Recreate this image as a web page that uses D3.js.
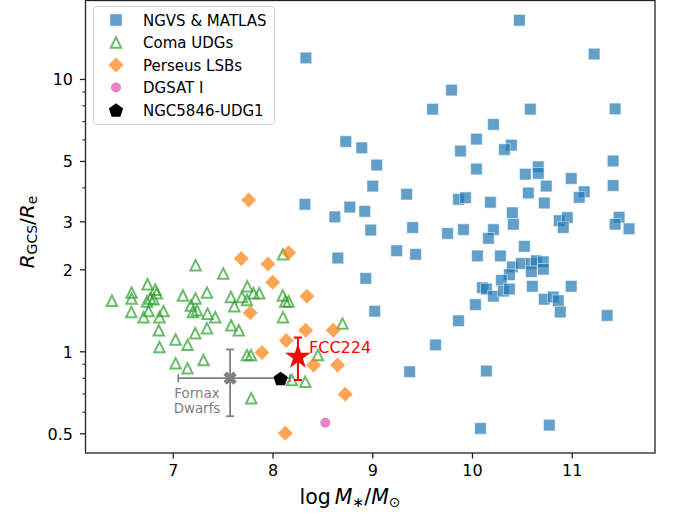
<!DOCTYPE html>
<html><head><meta charset="utf-8">
<script src="https://cdn.jsdelivr.net/npm/d3@7"></script>
<style>body{margin:0;background:#fff}svg{display:block;font-family:"DejaVu Sans",sans-serif}</style>
</head><body><svg id="c" width="678" height="520"></svg>
<script>
// ---- data ----
const ngvsX = [10.47,11.22,9.79,9.60,10.58,11.43,10.21,10.04,9.88,10.39,10.32,9.04,10.04,11.41,10.66,10.53,10.66,10.99,10.74,9.34,10.56,9.86,9.93,10.18,10.72,11.12,11.07,11.41,10.40,10.41,10.87,10.95,10.91,11.47,11.43,11.57,9.40,9.91,10.21,9.75,10.16,9.24,9.43,10.05,10.28,10.52,10.40,10.37,10.49,10.59,10.64,10.71,10.59,10.71,10.29,10.10,10.14,10.21,10.31,10.37,10.60,10.99,10.72,10.81,10.86,10.88,11.35,10.03,9.86,9.63,9.37,10.14,10.08,10.77,9.02,8.33,8.73,8.89,9.00,8.32,8.77,8.92,8.62,8.98,8.65,8.93];
const ngvsY = [16.5,12.4,9.14,7.78,7.78,7.80,6.84,6.04,5.46,5.74,5.53,4.85,4.69,5.02,4.78,4.49,4.52,4.33,4.06,3.79,3.83,3.63,3.68,3.54,3.52,3.87,3.69,4.08,3.24,2.94,3.03,3.11,2.86,3.12,2.94,2.83,2.86,2.81,2.81,2.72,2.61,2.35,2.28,2.25,2.25,2.44,2.05,1.92,2.11,2.11,2.16,2.14,1.97,2.01,1.83,1.72,1.70,1.60,1.67,1.70,1.74,1.74,1.56,1.59,1.54,1.40,1.36,1.49,1.30,1.06,0.845,0.85,0.523,0.538,1.41,12.0,5.92,5.61,4.06,3.48,3.40,3.28,3.13,2.80,2.21,1.86];
const comaX = [6.385,6.582,6.582,6.579,6.702,6.742,6.752,6.769,6.736,6.802,6.819,6.835,6.862,6.902,6.855,6.862,7.023,7.023,7.143,7.143,7.097,7.223,7.177,7.197,7.237,7.220,7.224,7.338,7.338,7.344,7.421,7.303,7.501,7.578,7.612,7.581,7.657,7.689,7.739,7.742,7.805,7.862,8.100,8.098,8.123,8.156,8.100,7.739,7.779,7.782,8.190,8.324,8.450,8.697];
const comaY = [1.54,1.65,1.57,1.40,1.34,1.77,1.41,1.57,1.53,1.56,1.69,1.64,1.34,1.41,1.20,1.04,1.11,0.907,1.06,0.869,1.61,1.57,1.48,1.40,1.42,1.17,2.08,1.65,1.22,1.38,1.34,0.932,1.94,1.59,1.47,1.25,1.20,1.59,1.55,1.74,1.64,1.64,2.28,1.61,1.53,1.53,1.34,0.972,0.972,0.675,0.787,0.776,0.972,1.27];
const perseusX = [7.757,7.682,7.949,8.156,7.997,8.340,7.772,8.328,8.133,8.604,7.889,8.407,8.647,8.724,8.123];
const perseusY = [3.61,2.20,2.10,2.31,1.80,1.60,1.39,1.20,1.10,1.20,0.995,0.894,0.894,0.698,0.502];
const dgsatX = [8.524], dgsatY = [0.549];
const ngc5846X = [8.076], ngc5846Y = [0.799];
const fornaxX = 7.57, fornaxY = 0.80, fornaxXerr = [0.52, 0.60], fornaxYerr = 0.22;
const fccX = 8.25, fccY = 0.958, fccYerr = 0.17;
const xTicks = [7,8,9,10,11];
const yTicks = [0.5,1,2,3,5,10];
const yMinor = [0.6,0.7,0.8,0.9,4,6,7,8,9];
const legendLabels = ["NGVS & MATLAS","Coma UDGs","Perseus LSBs","DGSAT I","NGC5846-UDG1"];

// ---- layout ----
const svg = d3.select("#c");
const L = 85.5, R = 655, T = 0.5, B = 453;
const x = d3.scaleLinear().domain([6.12, 11.83]).range([L, R]);
const y = d3.scaleLog().domain([0.425, 19.5]).range([B, T]);

const blue = "#1f77b4", green = "#2ca02c", orange = "#ff7f0e", pink = "#e377c2";

const sq = s => `M${-s},${-s}H${s}V${s}H${-s}Z`;
const tri = s => `M0,${-s}L${s},${s}L${-s},${s}Z`;
const dia = s => `M0,${-s}L${s},0L0,${s}L${-s},0Z`;
const pent = r => "M" + d3.range(5).map(i => { const a = -Math.PI/2 + i*2*Math.PI/5; return [r*Math.cos(a), r*Math.sin(a)].join(","); }).join("L") + "Z";
const star = (ro) => { const ri = ro*0.382; return "M" + d3.range(10).map(i => { const a = -Math.PI/2 + i*Math.PI/5; const r = i%2 ? ri : ro; return [r*Math.cos(a), r*Math.sin(a)].join(","); }).join("L") + "Z"; };
const xmark = (l, w) => { const p = [[-w,-l],[w,-l],[w,-w],[l,-w],[l,w],[w,w],[w,l],[-w,l],[-w,w],[-l,w],[-l,-w],[-w,-w]]; const c = Math.SQRT1_2; return "M" + p.map(([a,b]) => [(a-b)*c,(a+b)*c].join(",")).join("L") + "Z"; };

const plot = svg.append("g");

// NGVS squares
plot.selectAll(".sq").data(d3.zip(ngvsX, ngvsY)).join("path")
  .attr("d", sq(5.8)).attr("transform", d => `translate(${x(d[0])},${y(d[1])})`)
  .attr("fill", blue).attr("fill-opacity", 0.7).attr("stroke", "#fff").attr("stroke-opacity", 0.5).attr("stroke-width", 1);
// Coma triangles
plot.selectAll(".tr").data(d3.zip(comaX, comaY)).join("path")
  .attr("d", tri(5.2)).attr("transform", d => `translate(${x(d[0])},${y(d[1])})`)
  .attr("fill", "none").attr("stroke", green).attr("stroke-opacity", 0.7).attr("stroke-width", 2);
// Perseus diamonds
plot.selectAll(".di").data(d3.zip(perseusX, perseusY)).join("path")
  .attr("d", dia(7.5)).attr("transform", d => `translate(${x(d[0])},${y(d[1])})`)
  .attr("fill", orange).attr("fill-opacity", 0.7);
// DGSAT I
plot.selectAll(".ci").data(d3.zip(dgsatX, dgsatY)).join("circle")
  .attr("cx", d => x(d[0])).attr("cy", d => y(d[1])).attr("r", 5)
  .attr("fill", pink).attr("fill-opacity", 0.9);

// Fornax dwarfs
const fg = plot.append("g").attr("stroke", "#808080").attr("stroke-width", 1.8).attr("fill", "none");
const fx = x(fornaxX), fy = y(fornaxY);
const fxl = x(fornaxX - fornaxXerr[0]), fxr = x(fornaxX + fornaxXerr[1]);
const fyt = y(fornaxY + fornaxYerr), fyb = y(fornaxY - fornaxYerr);
fg.append("line").attr("x1", fxl).attr("x2", fxr).attr("y1", fy).attr("y2", fy);
fg.append("line").attr("x1", fx).attr("x2", fx).attr("y1", fyt).attr("y2", fyb);
fg.append("line").attr("x1", fxl).attr("x2", fxl).attr("y1", fy-4).attr("y2", fy+4);
fg.append("line").attr("x1", fxr).attr("x2", fxr).attr("y1", fy-4).attr("y2", fy+4);
fg.append("line").attr("x1", fx-4).attr("x2", fx+4).attr("y1", fyt).attr("y2", fyt);
fg.append("line").attr("x1", fx-4).attr("x2", fx+4).attr("y1", fyb).attr("y2", fyb);
plot.append("path").attr("d", xmark(7, 2.4)).attr("transform", `translate(${fx},${fy})`).attr("fill", "#808080");
const ft = plot.append("text").attr("fill", "#808080").attr("font-size", 13.4).attr("text-anchor", "middle");
ft.append("tspan").attr("x", 197).attr("y", 398).text("Fornax");
ft.append("tspan").attr("x", 197).attr("y", 413).text("Dwarfs");

// NGC5846-UDG1
plot.selectAll(".pe").data(d3.zip(ngc5846X, ngc5846Y)).join("path")
  .attr("d", pent(7.5)).attr("transform", d => `translate(${x(d[0])},${y(d[1])+0.8})`).attr("fill", "#000");

// FCC224
const rg = plot.append("g").attr("stroke", "red").attr("stroke-width", 2);
const sx = x(fccX), sy = y(fccY), st = y(fccY + fccYerr), sb = y(fccY - fccYerr);
rg.append("line").attr("x1", sx).attr("x2", sx).attr("y1", st).attr("y2", sb);
rg.append("line").attr("x1", sx-4).attr("x2", sx+4).attr("y1", st).attr("y2", st);
rg.append("line").attr("x1", sx-4).attr("x2", sx+4).attr("y1", sb).attr("y2", sb);
plot.append("path").attr("d", star(13.5)).attr("transform", `translate(${sx},${sy})`).attr("fill", "red");
plot.append("text").attr("x", 309).attr("y", 353).attr("fill", "red").attr("font-size", 16).text("FCC224");

// frame
svg.append("rect").attr("x", L).attr("y", T).attr("width", R-L).attr("height", B-T)
  .attr("fill", "none").attr("stroke", "#222").attr("stroke-width", 1.3);

// axes ticks
const ax = svg.append("g");
xTicks.forEach(t => {
  ax.append("line").attr("x1", x(t)).attr("x2", x(t)).attr("y1", B).attr("y2", B+5.6).attr("stroke", "#222").attr("stroke-width", 1.3);
  ax.append("text").attr("x", x(t)).attr("y", 476).attr("text-anchor", "middle").attr("font-size", 16).attr("fill", "#000").text(t);
});
yTicks.forEach(t => {
  ax.append("line").attr("x1", L-5.6).attr("x2", L).attr("y1", y(t)).attr("y2", y(t)).attr("stroke", "#222").attr("stroke-width", 1.3);
  ax.append("text").attr("x", 73).attr("y", y(t)+5.8).attr("text-anchor", "end").attr("font-size", 16).attr("fill", "#000").text(t);
});
yMinor.forEach(t => {
  ax.append("line").attr("x1", L-3.2).attr("x2", L).attr("y1", y(t)).attr("y2", y(t)).attr("stroke", "#222").attr("stroke-width", 1);
});

// axis labels
const xl = svg.append("text").attr("x", 350).attr("y", 504).attr("text-anchor", "middle").attr("font-size", 20.5).attr("fill", "#000");
xl.append("tspan").text("log\u2009");
xl.append("tspan").attr("font-style", "italic").text("M");
xl.append("tspan").attr("font-size", 14).attr("dy", 3).text("\u2217");
xl.append("tspan").attr("dy", -3).text("/");
xl.append("tspan").attr("font-style", "italic").text("M");
xl.append("tspan").attr("font-size", 14).attr("dy", 3).text("\u2299");

const yl = svg.append("text").attr("transform", "translate(34,232) rotate(-90)").attr("text-anchor", "middle").attr("font-size", 20).attr("fill", "#000");
yl.append("tspan").attr("font-style", "italic").text("R");
yl.append("tspan").attr("font-size", 14).attr("dy", 3).text("GCS");
yl.append("tspan").attr("dy", -3).text("/");
yl.append("tspan").attr("font-style", "italic").text("R");
yl.append("tspan").attr("font-size", 14).attr("dy", 3).text("e");

// legend
const lg = svg.append("g");
lg.append("rect").attr("x", 93.5).attr("y", 6.5).attr("width", 181).attr("height", 118).attr("rx", 3)
  .attr("fill", "#fff").attr("fill-opacity", 0.8).attr("stroke", "#d0d0d0").attr("stroke-width", 1);
const rows = [20, 42.5, 65, 87.5, 110];
const mk = [
  g => g.append("path").attr("d", sq(5.8)).attr("fill", blue).attr("fill-opacity", 0.7),
  g => g.append("path").attr("d", tri(5.2)).attr("fill", "none").attr("stroke", green).attr("stroke-opacity", 0.7).attr("stroke-width", 2),
  g => g.append("path").attr("d", dia(7.5)).attr("fill", orange).attr("fill-opacity", 0.7),
  g => g.append("circle").attr("r", 5).attr("fill", pink).attr("fill-opacity", 0.9),
  g => g.append("path").attr("d", pent(7.5)).attr("transform", "translate(0,0.8)").attr("fill", "#000")
];
legendLabels.forEach((lab, i) => {
  const g = lg.append("g").attr("transform", `translate(116,${rows[i]})`);
  mk[i](g);
  lg.append("text").attr("x", 143).attr("y", rows[i]+5.5).attr("font-size", 15).attr("fill", "#000").text(lab);
});
</script></body></html>
